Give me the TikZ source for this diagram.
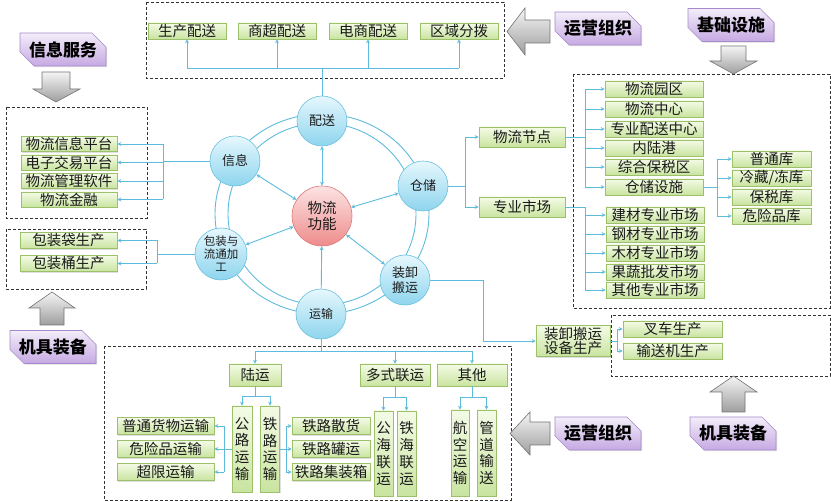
\documentclass[tikz,border=0pt]{standalone}
\usepackage{fontspec}
\setmainfont{Noto Sans CJK SC}
\usetikzlibrary{arrows.meta,shapes.misc,shadows}
\definecolor{linkc}{HTML}{5DBBDB}
\definecolor{boxtop}{HTML}{F4FBE6}
\definecolor{boxbot}{HTML}{C9E4A0}
\definecolor{boxline}{HTML}{9CC16A}
\definecolor{balltop}{HTML}{E6F7FD}
\definecolor{ballbot}{HTML}{8ED5EE}
\definecolor{ballline}{HTML}{6BBFDC}
\definecolor{hubtop}{HTML}{FDE3E3}
\definecolor{hubbot}{HTML}{EE8B8B}
\definecolor{hubline}{HTML}{D77A7A}
\definecolor{tagtop}{HTML}{F3EDF9}
\definecolor{tagbot}{HTML}{C6A9E3}
\definecolor{tagline}{HTML}{A58BC9}
\definecolor{inkc}{HTML}{1A1A1A}

\tikzset{
  gbox/.style={draw=boxline, top color=boxtop, bottom color=boxbot, line width=0.6pt,
    inner sep=0pt, minimum height=16, text=inkc, font=\fontsize{14.5}{16}\selectfont,
    drop shadow={shadow xshift=1.2pt, shadow yshift=-1.2pt, opacity=0.25}},
  vbox/.style={gbox, align=center, font=\fontsize{14.5}{16.8}\selectfont},
  ball/.style={circle, draw=ballline, top color=balltop, bottom color=ballbot, line width=0.6pt,
    inner sep=0pt, minimum size=50, align=center, text=inkc, font=\fontsize{13}{15}\selectfont},
  hub/.style={ball, draw=hubline, top color=hubtop, bottom color=hubbot, minimum size=60,
    font=\fontsize{14.5}{16}\selectfont},
  tag/.style={chamfered rectangle, chamfered rectangle corners={north east,south west},
    chamfered rectangle xsep=7pt, chamfered rectangle ysep=7pt,
    draw=tagline, top color=tagtop, bottom color=tagbot, line width=0.6pt, inner sep=0pt,
    minimum width=86, minimum height=33, text=black, font=\bfseries\fontsize{17}{20}\selectfont,
    drop shadow={shadow xshift=1.2pt, shadow yshift=-1.2pt, opacity=0.25}},
  frame/.style={draw=black!80, line width=0.8pt, dash pattern=on 3pt off 2pt},
  link/.style={draw=linkc, line width=0.9pt},
  greyarrow/.style={draw=black!55, top color=black!4, bottom color=black!38, line width=0.6pt},
}

\begin{document}
\begin{tikzpicture}[x=1pt,y=-1pt,>={Stealth[length=4pt,width=4pt]}]
  \useasboundingbox (0,0) rectangle (831,502);

  % dashed groups
  \draw[frame] (146,2) rectangle (504,78);
  \draw[frame] (6,107) rectangle (147,218);
  \draw[frame] (6,229) rectangle (146,289);
  \draw[frame] (573,74) rectangle (830,308);
  \draw[frame] (611,315) rectangle (830,376);
  \draw[frame] (104,346) rectangle (511,500);

  % big grey arrows
  \draw[greyarrow] (42,72) -- (70,72) -- (70,89) -- (80,89) -- (56,102) -- (33,89) -- (42,89) -- cycle;
  \draw[greyarrow] (721,46) -- (746,46) -- (746,61) -- (757,61) -- (733.5,74) -- (710,61) -- (721,61) -- cycle;
  \draw[greyarrow] (40,325) -- (64,325) -- (64,308) -- (75,308) -- (52,292) -- (29,308) -- (40,308) -- cycle;
  \draw[greyarrow] (722,412) -- (745,412) -- (745,392) -- (757,392) -- (733.5,376) -- (710,392) -- (722,392) -- cycle;
  \draw[greyarrow] (550,20) -- (550,43) -- (525,43) -- (525,55) -- (507,31.5) -- (525,8) -- (525,20) -- cycle;
  \draw[greyarrow] (550,422) -- (550,445) -- (530,445) -- (530,455) -- (510,433.5) -- (530,412) -- (530,422) -- cycle;

  % purple tags
  \node[tag] (xxfw) at (63,49.5) {信息服务};
  \node[tag] (yyzz) at (598,28.5) {运营组织};
  \node[tag] (jcss) at (731,25) {基础设施};
  \node[tag] (jjzb) at (53,347) {机具装备};
  \node[tag] (yyzzb) at (598,433.5) {运营组织};
  \node[tag] (jjzbb) at (733,433.5) {机具装备};

  % ring and function circles
  \draw[link] (322,214) ellipse (107 and 100) (322,214) ellipse (94 and 91);
  \node[hub] (wl) at (322,216) {物流\\功能};
  \node[ball] (ps) at (322,121) {配送};
  \node[ball] (xx) at (235,161) {信息};
  \node[ball] (cc) at (423,186) {仓储};
  \node[ball, minimum size=52, font=\fontsize{11.5}{13}\selectfont] (bz) at (221,254) {包装与\\流通加\\工};
  \node[ball] (zx) at (405,280) {装卸\\搬运};
  \node[ball, font=\fontsize{12}{14}\selectfont] (ys) at (321,314) {运输};
  \foreach \n in {ps,xx,cc,bz,zx} \draw[link,<->] (wl) -- (\n);
  \draw[link,->] (ys) -- (wl);

  % distribution
  \foreach \t/\x [count=\i] in {生产配送/187,商超配送/277,电商配送/368,区域分拨/459}
    \node[gbox, minimum width=78] (ps\i) at (\x,31) {\t};
  \coordinate (psbus) at (322,68);
  \draw[link] (ps) -- (psbus); \draw[link] (ps1.south |- psbus) -- (ps4.south |- psbus);
  \foreach \i in {1,...,4} \draw[link,->] (ps\i.south |- psbus) -- (ps\i.south);

  % information
  \foreach \t/\y [count=\i] in {物流信息平台/144,电子交易平台/162.5,物流管理软件/181,物流金融/199.5}
    \node[gbox, minimum width=96, minimum height=15] (xx\i) at (69,\y) {\t};
  \coordinate (xxbus) at (163,161);
  \draw[link] (xx) -- (xxbus); \draw[link] (xxbus |- xx1.east) -- (xxbus |- xx4.east);
  \foreach \i in {1,...,4} \draw[link,->] (xxbus |- xx\i.east) -- (xx\i.east);

  % packaging
  \node[gbox, minimum width=97] (bz1) at (68.5,240.5) {包装袋生产};
  \node[gbox, minimum width=97] (bz2) at (68.5,263.5) {包装桶生产};
  \coordinate (bzbus) at (157,254);
  \draw[link] (bz) -- (bzbus); \draw[link] (bzbus |- bz1.east) -- (bzbus |- bz2.east);
  \foreach \i in {1,2} \draw[link,->] (bzbus |- bz\i.east) -- (bz\i.east);

  % storage
  \node[gbox, minimum width=86, minimum height=20] (jd) at (522,137) {物流节点};
  \node[gbox, minimum width=86, minimum height=20] (sc) at (522,207) {专业市场};
  \coordinate (ccbus) at (465,186);
  \draw[link] (cc) -- (ccbus); \draw[link] (ccbus |- jd.west) -- (ccbus |- sc.west);
  \draw[link,->] (ccbus |- jd.west) -- (jd.west); \draw[link,->] (ccbus |- sc.west) -- (sc.west);

  \foreach \t/\y [count=\i] in {物流园区/89,物流中心/109,专业配送中心/129,内陆港/148,综合保税区/167,仓储设施/187}
    \node[gbox, minimum width=98] (jd\i) at (654,\y) {\t};
  \coordinate (jdbus) at (585,137);
  \draw[link] (jd) -- (jdbus); \draw[link] (jdbus |- jd1.west) -- (jdbus |- jd6.west);
  \foreach \i in {1,...,6} \draw[link,->] (jdbus |- jd\i.west) -- (jd\i.west);

  \node[gbox, minimum width=79] (ck1) at (771.5,159) {普通库};
  \node[gbox, minimum width=79] (ck2) at (771.5,178) {冷藏/冻库};
  \node[gbox, minimum width=79] (ck3) at (771.5,197) {保税库};
  \node[gbox, minimum width=79] (ck4) at (771.5,216) {危险品库};
  \coordinate (ckbus) at (717,187);
  \draw[link] (jd6) -- (ckbus); \draw[link] (ckbus |- ck1.west) -- (ckbus |- ck4.west);
  \foreach \i in {1,...,4} \draw[link,->] (ckbus |- ck\i.west) -- (ck\i.west);

  \foreach \t/\y [count=\i] in {建材专业市场/215,钢材专业市场/234,木材专业市场/253,果蔬批发市场/272,其他专业市场/290}
    \node[gbox, minimum width=98] (sc\i) at (655,\y) {\t};
  \coordinate (scbus) at (585,207);
  \draw[link] (sc) -- (scbus) -- (scbus |- sc5.west);
  \foreach \i in {1,...,5} \draw[link,->] (scbus |- sc\i.west) -- (sc\i.west);

  % handling equipment
  \node[gbox, minimum width=74, minimum height=31, align=center, font=\fontsize{14.5}{11.5}\selectfont] (zb) at (573,341) {装卸搬运\\设备生产};
  \coordinate (zxturn) at (483,280);
  \draw[link,->] (zx) -- (zxturn) -- (zxturn |- zb.west) -- (zb.west);
  \node[gbox, minimum width=99] (zb1) at (672.5,329) {叉车生产};
  \node[gbox, minimum width=99] (zb2) at (672.5,351) {输送机生产};
  \coordinate (zbbus) at (617,341);
  \draw[link] (zb) -- (zbbus); \draw[link] (zbbus |- zb1.west) -- (zbbus |- zb2.west);
  \foreach \i in {1,2} \draw[link,->] (zbbus |- zb\i.west) -- (zb\i.west);

  % transport
  \node[gbox, minimum width=52, minimum height=22] (ly) at (255,375) {陆运};
  \node[gbox, minimum width=70, minimum height=22] (dsly) at (395,375) {多式联运};
  \node[gbox, minimum width=70, minimum height=22] (qt) at (472,375) {其他};
  \coordinate (ysbus) at (321,351);
  \draw[link] (ys) -- (ysbus); \draw[link] (ly.north |- ysbus) -- (qt.north |- ysbus);
  \foreach \n in {ly,dsly,qt} \draw[link,->] (\n.north |- ysbus) -- (\n.north);

  \node[vbox, minimum width=20, minimum height=86] (gl) at (242,449) {公\\路\\运\\输};
  \node[vbox, minimum width=19, minimum height=86] (tl) at (270,449) {铁\\路\\运\\输};
  \node[vbox, minimum width=19, minimum height=85] (gh) at (383.5,453.5) {公\\海\\联\\运};
  \node[vbox, minimum width=19, minimum height=85] (th) at (406.5,453.5) {铁\\海\\联\\运};
  \node[vbox, minimum width=18, minimum height=86] (hk) at (460,453) {航\\空\\运\\输};
  \node[vbox, minimum width=19, minimum height=86] (gd) at (486.5,453) {管\\道\\输\\送};
  \coordinate (lybus) at (255,396);
  \coordinate (dsbus) at (395,397);
  \coordinate (qtbus) at (472,397);
  \draw[link] (ly) -- (lybus); \draw[link] (gl.north |- lybus) -- (tl.north |- lybus);
  \draw[link] (dsly) -- (dsbus); \draw[link] (gh.north |- dsbus) -- (th.north |- dsbus);
  \draw[link] (qt) -- (qtbus); \draw[link] (hk.north |- qtbus) -- (gd.north |- qtbus);
  \foreach \n/\c in {gl/lybus,tl/lybus,gh/dsbus,th/dsbus,hk/qtbus,gd/qtbus}
    \draw[link,->] (\n.north |- \c) -- (\n.north);

  \foreach \t/\y [count=\i] in {普通货物运输/426,危险品运输/449,超限运输/472}
    \node[gbox, minimum width=97, minimum height=17] (gl\i) at (165.5,\y) {\t};
  \coordinate (glbus) at (224,449);
  \draw[link] (gl) -- (glbus); \draw[link] (glbus |- gl1.east) -- (glbus |- gl3.east);
  \foreach \i in {1,2,3} \draw[link,->] (glbus |- gl\i.east) -- (gl\i.east);

  \foreach \t/\y [count=\i] in {铁路散货/426,铁路罐运/449,铁路集装箱/472}
    \node[gbox, minimum width=78, minimum height=17] (tl\i) at (331,\y) {\t};
  \coordinate (tlbus) at (286,449);
  \draw[link] (tl) -- (tlbus); \draw[link] (tlbus |- tl1.west) -- (tlbus |- tl3.west);
  \foreach \i in {1,2,3} \draw[link,->] (tlbus |- tl\i.west) -- (tl\i.west);
\end{tikzpicture}
\end{document}
